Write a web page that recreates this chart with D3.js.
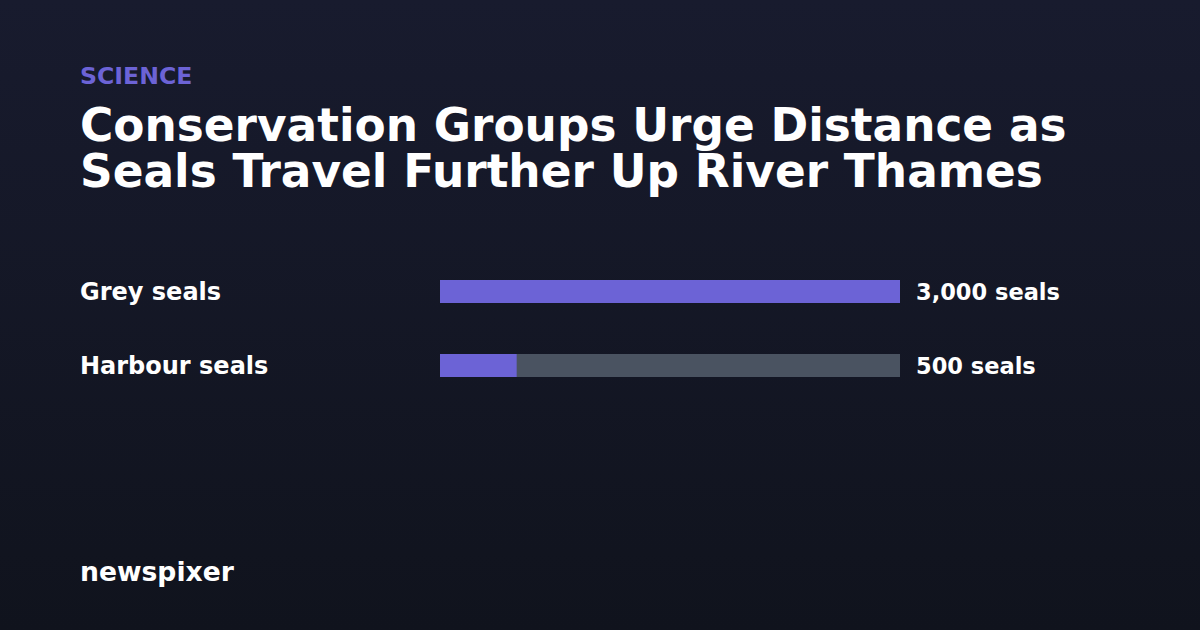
<!DOCTYPE html>
<html><head><meta charset="utf-8">
<script src="https://cdn.jsdelivr.net/npm/d3@7"></script>
<style>html,body{margin:0;padding:0;background:#141726;}svg{display:block;}</style>
</head><body>
<svg id="c" width="1200" height="630"></svg>
<script>
const categories = ["Grey seals", "Harbour seals"];
const values = [3000, 500];
const valueLabels = ["3,000 seals", "500 seals"];
const maxValue = 3000;
const kicker = "SCIENCE";
const titleLines = ["Conservation Groups Urge Distance as", "Seals Travel Further Up River Thames"];
const brand = "newspixer";

const svg = d3.select("#c");
const defs = svg.append("defs");
const g = defs.append("linearGradient").attr("id","bg").attr("x1",0).attr("y1",0).attr("x2",0).attr("y2",1);
g.append("stop").attr("offset","0%").attr("stop-color","#181b2e");
g.append("stop").attr("offset","100%").attr("stop-color","#10131d");
svg.append("rect").attr("width",1200).attr("height",630).attr("fill","url(#bg)");

const font = "'DejaVu Sans', sans-serif";
svg.append("text").attr("x",80).attr("y",84).text(kicker)
  .attr("font-family",font).attr("font-weight","bold").attr("font-size",23.6).attr("fill","#6c63d6");
svg.append("g").selectAll("text").data(titleLines).join("text")
  .attr("x",80).attr("y",(d,i)=>141+i*46).text(d=>d)
  .attr("font-family",font).attr("font-weight","bold").attr("font-size",45.4).attr("fill","#ffffff");

const x = d3.scaleLinear().domain([0,maxValue]).range([440,900]);
const y = d3.scalePoint().domain(categories).range([291.5,365.5]);
const bh = 23;
const rows = svg.append("g").selectAll("g").data(categories).join("g");
rows.append("rect").attr("x",x(0)).attr("y",d=>y(d)-bh/2).attr("width",x(maxValue)-x(0)).attr("height",bh).attr("fill","#4a5361");
rows.append("rect").attr("x",x(0)).attr("y",d=>y(d)-bh/2).attr("width",(d,i)=>x(values[i])-x(0)).attr("height",bh).attr("fill","#6c63d6");
rows.append("text").attr("x",80).attr("y",d=>y(d)+8).text(d=>d)
  .attr("font-family",font).attr("font-weight","bold").attr("font-size",24).attr("fill","#ffffff");
rows.append("text").attr("x",x(maxValue)+16).attr("y",d=>y(d)+8).text((d,i)=>valueLabels[i])
  .attr("font-family",font).attr("font-weight","bold").attr("font-size",22.5).attr("fill","#ffffff");
svg.append("text").attr("x",80).attr("y",581).text(brand)
  .attr("font-family",font).attr("font-weight","bold").attr("font-size",26.6).attr("fill","#ffffff");
</script>
</body></html>
